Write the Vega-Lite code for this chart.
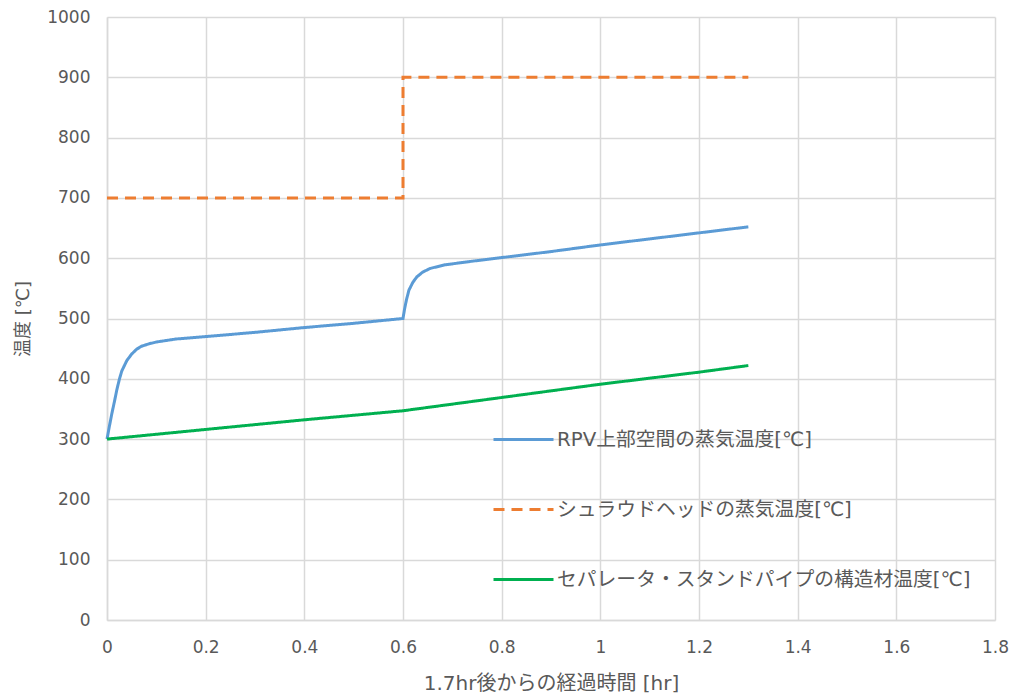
{
  "$schema": "https://vega.github.io/schema/vega-lite/v6.json",
  "width": 888,
  "height": 603,
  "autosize": {"type": "none"},
  "padding": {"left": 107, "top": 17, "right": 20, "bottom": 80},
  "background": "white",
  "config": {
    "font": "DejaVu Sans, Noto Sans CJK JP",
    "view": {"stroke": null}
  },
  "data": {
    "values": [
      {"s": "RPV上部空間の蒸気温度[℃]", "i": 1, "x": 0, "y": 300},
      {"s": "RPV上部空間の蒸気温度[℃]", "i": 2, "x": 0.005, "y": 322},
      {"s": "RPV上部空間の蒸気温度[℃]", "i": 3, "x": 0.01, "y": 343},
      {"s": "RPV上部空間の蒸気温度[℃]", "i": 4, "x": 0.015, "y": 362},
      {"s": "RPV上部空間の蒸気温度[℃]", "i": 5, "x": 0.02, "y": 382},
      {"s": "RPV上部空間の蒸気温度[℃]", "i": 6, "x": 0.025, "y": 399},
      {"s": "RPV上部空間の蒸気温度[℃]", "i": 7, "x": 0.03, "y": 413},
      {"s": "RPV上部空間の蒸気温度[℃]", "i": 8, "x": 0.04, "y": 430},
      {"s": "RPV上部空間の蒸気温度[℃]", "i": 9, "x": 0.05, "y": 441},
      {"s": "RPV上部空間の蒸気温度[℃]", "i": 10, "x": 0.06, "y": 449},
      {"s": "RPV上部空間の蒸気温度[℃]", "i": 11, "x": 0.07, "y": 454},
      {"s": "RPV上部空間の蒸気温度[℃]", "i": 12, "x": 0.085, "y": 458},
      {"s": "RPV上部空間の蒸気温度[℃]", "i": 13, "x": 0.1, "y": 461},
      {"s": "RPV上部空間の蒸気温度[℃]", "i": 14, "x": 0.14, "y": 466},
      {"s": "RPV上部空間の蒸気温度[℃]", "i": 15, "x": 0.2, "y": 470},
      {"s": "RPV上部空間の蒸気温度[℃]", "i": 16, "x": 0.3, "y": 477},
      {"s": "RPV上部空間の蒸気温度[℃]", "i": 17, "x": 0.4, "y": 485},
      {"s": "RPV上部空間の蒸気温度[℃]", "i": 18, "x": 0.5, "y": 492},
      {"s": "RPV上部空間の蒸気温度[℃]", "i": 19, "x": 0.6, "y": 500},
      {"s": "RPV上部空間の蒸気温度[℃]", "i": 20, "x": 0.603, "y": 515},
      {"s": "RPV上部空間の蒸気温度[℃]", "i": 21, "x": 0.607, "y": 531},
      {"s": "RPV上部空間の蒸気温度[℃]", "i": 22, "x": 0.612, "y": 547},
      {"s": "RPV上部空間の蒸気温度[℃]", "i": 23, "x": 0.62, "y": 560},
      {"s": "RPV上部空間の蒸気温度[℃]", "i": 24, "x": 0.628, "y": 569},
      {"s": "RPV上部空間の蒸気温度[℃]", "i": 25, "x": 0.64, "y": 577},
      {"s": "RPV上部空間の蒸気温度[℃]", "i": 26, "x": 0.655, "y": 583},
      {"s": "RPV上部空間の蒸気温度[℃]", "i": 27, "x": 0.685, "y": 589},
      {"s": "RPV上部空間の蒸気温度[℃]", "i": 28, "x": 0.74, "y": 595},
      {"s": "RPV上部空間の蒸気温度[℃]", "i": 29, "x": 0.8, "y": 601},
      {"s": "RPV上部空間の蒸気温度[℃]", "i": 30, "x": 0.9, "y": 611},
      {"s": "RPV上部空間の蒸気温度[℃]", "i": 31, "x": 1.0, "y": 622},
      {"s": "RPV上部空間の蒸気温度[℃]", "i": 32, "x": 1.1, "y": 632},
      {"s": "RPV上部空間の蒸気温度[℃]", "i": 33, "x": 1.2, "y": 642},
      {"s": "RPV上部空間の蒸気温度[℃]", "i": 34, "x": 1.3, "y": 652},
      {"s": "シュラウドヘッドの蒸気温度[℃]", "i": 1, "x": 0, "y": 700},
      {"s": "シュラウドヘッドの蒸気温度[℃]", "i": 2, "x": 0.6, "y": 700},
      {"s": "シュラウドヘッドの蒸気温度[℃]", "i": 3, "x": 0.6, "y": 900},
      {"s": "シュラウドヘッドの蒸気温度[℃]", "i": 4, "x": 1.3, "y": 900},
      {"s": "セパレータ・スタンドパイプの構造材温度[℃]", "i": 1, "x": 0, "y": 300},
      {"s": "セパレータ・スタンドパイプの構造材温度[℃]", "i": 2, "x": 0.2, "y": 316},
      {"s": "セパレータ・スタンドパイプの構造材温度[℃]", "i": 3, "x": 0.4, "y": 332},
      {"s": "セパレータ・スタンドパイプの構造材温度[℃]", "i": 4, "x": 0.6, "y": 347},
      {"s": "セパレータ・スタンドパイプの構造材温度[℃]", "i": 5, "x": 0.8, "y": 369},
      {"s": "セパレータ・スタンドパイプの構造材温度[℃]", "i": 6, "x": 1.0, "y": 391},
      {"s": "セパレータ・スタンドパイプの構造材温度[℃]", "i": 7, "x": 1.2, "y": 411},
      {"s": "セパレータ・スタンドパイプの構造材温度[℃]", "i": 8, "x": 1.3, "y": 422}
    ]
  },
  "mark": {"type": "line", "strokeWidth": 3, "strokeCap": "butt"},
  "encoding": {
    "x": {
      "field": "x", "type": "quantitative",
      "scale": {"domain": [0, 1.8], "nice": false, "zero": false},
      "axis": {
        "values": [0, 0.2, 0.4, 0.6, 0.8, 1, 1.2, 1.4, 1.6, 1.8],
        "format": "~g", "labelFlush": false,
        "title": "1.7hr後からの経過時間 [hr]",
        "titleFontSize": 20, "titleFontWeight": "normal", "titleColor": "#595959", "titlePadding": 18,
        "labelFontSize": 17, "labelColor": "#595959", "labelPadding": 19,
        "ticks": false, "domainColor": "#d9d9d9", "domainWidth": 1.5,
        "gridColor": "#d9d9d9", "gridWidth": 1.5
      }
    },
    "y": {
      "field": "y", "type": "quantitative",
      "scale": {"domain": [0, 1000], "nice": false},
      "axis": {
        "values": [0, 100, 200, 300, 400, 500, 600, 700, 800, 900, 1000],
        "format": "d", "labelFlush": false,
        "title": "温度 [℃]",
        "titleFontSize": 18, "titleFontWeight": "normal", "titleColor": "#595959", "titlePadding": 14,
        "labelFontSize": 17, "labelColor": "#595959", "labelPadding": 17,
        "ticks": false, "domainColor": "#d9d9d9", "domainWidth": 1.5,
        "gridColor": "#d9d9d9", "gridWidth": 1.5
      }
    },
    "color": {
      "field": "s", "type": "nominal",
      "scale": {
        "domain": ["RPV上部空間の蒸気温度[℃]", "シュラウドヘッドの蒸気温度[℃]", "セパレータ・スタンドパイプの構造材温度[℃]"],
        "range": ["#5B9BD5", "#ED7D31", "#00B050"]
      },
      "legend": {
        "title": null, "orient": "none", "legendX": 385, "legendY": 391,
        "symbolType": "stroke", "symbolSize": 3600, "symbolStrokeWidth": 3,
        "labelFontSize": 19.8, "labelColor": "#595959", "labelLimit": 600,
        "rowPadding": 28, "labelOffset": 2
      }
    },
    "strokeDash": {
      "field": "s", "type": "nominal",
      "scale": {
        "domain": ["RPV上部空間の蒸気温度[℃]", "シュラウドヘッドの蒸気温度[℃]", "セパレータ・スタンドパイプの構造材温度[℃]"],
        "range": [[1, 0], [11, 7], [1, 0]]
      },
      "legend": null
    },
    "order": {"field": "i", "type": "quantitative"}
  }
}
